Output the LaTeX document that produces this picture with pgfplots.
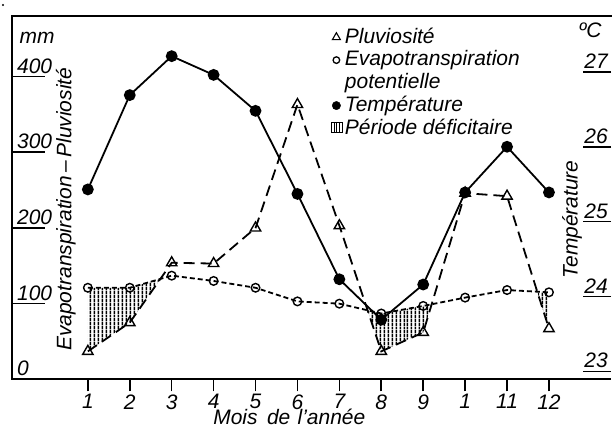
\documentclass[border=0pt]{standalone}
\usepackage{fontspec}
\setmainfont{Liberation Sans}
\usepackage{pgfplots}
\pgfplotsset{compat=1.18}
\usepgfplotslibrary{fillbetween}
\usetikzlibrary{patterns.meta}
\newcommand\lab{\itshape\fontsize{21bp}{24bp}\selectfont}
\tikzset{hatch/.style={pattern={Lines[angle=90,distance=3.6bp,line width=1.5bp]}}}
\begin{document}
\begin{tikzpicture}
\pgfplotsset{base/.style={scale only axis, width=600bp, height=364bp, xmin=-0.81, xmax=13.48,
  at={(12bp,51bp)}, anchor=south west,
  tick style={line width=1.6bp, black}}}
% ---------- main axis: rainfall and ETP ----------
\begin{axis}[base, name=main, set layers, ymin=0, ymax=480, clip=false,
  axis x line=bottom, axis y line=left, axis line style={-, line width=1.9bp},
  xtick={1,2,3,4,5,6,7,8,9,10,11,12},
  xticklabels={1,2,3,4,5,6,7,8,9,1,11,12},
  ytick=\empty, tick align=outside, major tick length=12bp,
  xticklabel style={font=\lab, inner sep=1bp, yshift=-2bp, text depth=0pt},
  xlabel={Mois\hspace{0.45em}de\hspace{0.35em}l'année},
  every axis x label/.style={font=\lab, at={(axis description cs:0.463,0)}, anchor=north, yshift=-38bp,
    inner sep=0pt, text height=0.72em, text depth=0pt},
  legend style={at={(axis description cs:0.532,0.972)}, anchor=north west, draw=none, fill=none,
    font=\lab, inner sep=0pt, row sep=3bp, cells={anchor=west},
    nodes={inner xsep=2bp, inner ysep=1.5bp}},
  ]
\addplot[name path=rain, line width=1.8bp, dash pattern=on 11bp off 6bp,
  mark=triangle, mark size=6bp, mark options={solid, fill=white, line width=1.4bp}, forget plot]
  coordinates {(1,37)(2,75)(3,154)(4,153)(5,200)(6,363)(7,203)(8,37)(9,62)(10,246)(11,242)(12,67)};
\addplot[name path=etp, line width=1.8bp, dash pattern=on 5bp off 3bp,
  mark=o, mark size=4.3bp, mark options={solid, fill=white, line width=1.4bp}, forget plot]
  coordinates {(1,121)(2,121)(3,137)(4,130)(5,121)(6,103)(7,100)(8,87)(9,97)(10,108)(11,118)(12,115)};
\addplot[hatch, draw=none, forget plot] fill between[of=etp and rain, soft clip={domain=1:2.73}];
\addplot[hatch, draw=none, forget plot] fill between[of=etp and rain, soft clip={domain=7.67:9.2}];
\addplot[hatch, draw=none, forget plot] fill between[of=etp and rain, soft clip={domain=11.72:12}];
\node[font=\lab, anchor=center] at (axis description cs:0.042,0.94) {mm};
\node[font=\lab, anchor=center] at (axis description cs:0.965,0.962) {ºC};
% legend
\addlegendimage{legend image code/.code={\draw[line width=1.1bp] plot[mark=triangle, mark size=4.6bp] coordinates {(4bp,-1bp)};}}
\addlegendentry{Pluviosité}
\addlegendimage{legend image code/.code={\draw[line width=1.3bp] plot[mark=o, mark size=3.3bp] coordinates {(4bp,-1bp)};}}
\addlegendentry{Evapotranspiration}
\addlegendimage{legend image code/.code={\path (0bp,0bp) (8bp,0bp);}}
\addlegendentry{potentielle}
\addlegendimage{legend image code/.code={\fill (4bp,-1bp) circle (4.2bp);}}
\addlegendentry{Température}
\addlegendimage{legend image code/.code={\draw[line width=1bp, pattern={Lines[angle=90,distance=2.7bp,line width=1.1bp]}] (-1bp,-5bp) rectangle (10bp,5bp);}}
\addlegendentry{Période déficitaire}
\end{axis}
% ---------- left scale (mm) ----------
\begin{axis}[base, ymin=0, ymax=480,
  axis x line=none, axis y line=left, axis line style={draw=none},
  xtick=\empty, ytick={0,100,200,300,400}, yticklabels={0,100,200,300,400},
  tick align=inside, major tick length=33bp,
  yticklabel style={font=\lab, anchor=south west, inner sep=1bp, xshift=4bp, yshift=2bp},
  ylabel={Evapotranspiration\,--\,Pluviosité},
  every axis y label/.style={font=\lab, at={(axis description cs:0.09,0.468)}, rotate=90, anchor=center},
  ]
\end{axis}
% ---------- right scale (temperature) ----------
\begin{axis}[base, ymin=22.893, ymax=27.747,
  axis x line=none, axis y line=right, axis line style={draw=none},
  xtick=\empty, ytick={23,24,25,26,27}, yticklabels={23,24,25,26,27},
  tick align=inside, major tick length=28bp,
  yticklabel style={font=\lab, anchor=south east, inner sep=1bp, xshift=-2bp, yshift=2bp},
  ylabel={Température},
  every axis y label/.style={font=\lab, at={(axis description cs:0.935,0.44)}, rotate=90, anchor=center},
  ]
\addplot[line width=1.8bp, mark=*, mark size=5bp]
  coordinates {(1,25.43)(2,26.69)(3,27.21)(4,26.96)(5,26.48)(6,25.37)(7,24.23)(8,23.69)(9,24.16)(10,25.39)(11,26.0)(12,25.39)};
\end{axis}
% frame: left and top sides of the plot box
\draw[line width=2bp, line cap=rect] (12bp,51bp) -- (12bp,415bp) -- (612bp,415bp);
% small speck of the scanned original (top-left corner)
\fill (3bp,426bp) circle (1.2bp);
\path (0bp,0bp) rectangle (612bp,431bp);
\end{tikzpicture}
\end{document}
